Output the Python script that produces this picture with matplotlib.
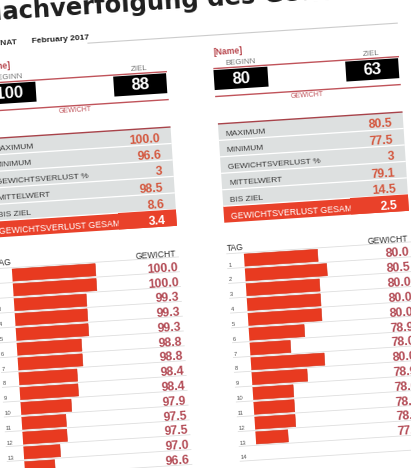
import matplotlib

matplotlib.use('agg')
import matplotlib.pyplot as plt
from matplotlib.patches import Rectangle, Polygon
from matplotlib.transforms import Affine2D
from matplotlib.font_manager import FontProperties

plt.rcParams['font.family'] = 'Liberation Sans'

# Data
title = 'Nachverfolgung des Gewichtsverlusts'
monat = 'February 2017'
stat_labels = ['MAXIMUM', 'MINIMUM', 'GEWICHTSVERLUST %', 'MITTELWERT', 'BIS ZIEL',
               'GEWICHTSVERLUST GESAMT']
stat_fmt = ['{:.1f}', '{:.1f}', '{:.0f}', '{:.1f}', '{:.1f}', '{:.1f}']
days = list(range(1, 15))

left_start = 100
left_goal = 88
left_stats = [100.0, 96.6, 3, 98.5, 8.6, 3.4]
left_weights = [100.0, 100.0, 99.3, 99.3, 99.3, 98.8, 98.8, 98.4, 98.4, 97.9, 97.5, 97.5, 97.0, 96.6]
left_xlim = (94.66, 101.7)

right_start = 80
right_goal = 63
right_stats = [80.5, 77.5, 3, 79.1, 14.5, 2.5]
right_weights = [80.0, 80.5, 80.0, 80.0, 80.0, 78.9, 78.0, 80.0, 78.9, 78.0, 78.0, 78.0, 77.5]
right_xlim = (75.54, 82.2)

# colours
RED_LINE = '#c0535a'
NAME_RED = '#b8474e'
STAT_RED = '#d4583f'
VAL_RED = '#b34b55'
BAR_RED = '#e83a20'
BAND_RED = '#e9412a'
GRAY_BG = '#dde0e0'

W, H = 411, 468
ANG = 3.7
ROW0 = 262.6
PITCH = 14.85

fig = plt.figure(figsize=(W / 100, H / 100), dpi=100)
fig.patch.set_facecolor('white')
ax = fig.add_axes([0, 0, 1, 1])
ax.set_xlim(0, W)
ax.set_ylim(H, 0)
ax.axis('off')

# the photo is tilted, so everything is drawn flat and turned a bit
rot = Affine2D().rotate_deg_around(205, H - 234, ANG)
T = ax.transData + rot


def txt(x, y, s, **kw):
    return ax.text(x, y, s, transform=T, rotation=ANG, rotation_mode='anchor', **kw)


def hline(x0, x1, y, **kw):
    ax.plot([x0, x1], [y, y], transform=T, solid_capstyle='butt', **kw)


def box(x0, y0, w, h, **kw):
    ax.add_patch(Rectangle((x0, y0), w, h, transform=T, **kw))


def panel(u0, start, goal, stats, weights, xlim):
    # header with start / goal
    txt(u0, 53, '[Name]', color=NAME_RED, fontsize=6.2, fontweight='bold', ha='left', va='center')
    txt(u0 + 26, 65, 'BEGINN', color='#777777', fontsize=5.8, ha='center', va='center')
    txt(u0 + 157.5, 65.5, 'ZIEL', color='#777777', fontsize=5.8, ha='center', va='center')
    hline(u0 - 1, u0 + 185, 69.5, color=RED_LINE, lw=1.0)
    box(u0 - 1, 71, 54, 20, color='black', lw=0)
    box(u0 + 131, 71, 53, 20, color='black', lw=0)
    txt(u0 + 26, 81.5, str(start), color='white', fontsize=12, fontweight='bold',
        ha='center', va='center')
    txt(u0 + 157.5, 81.5, str(goal), color='white', fontsize=12, fontweight='bold',
        ha='center', va='center')
    hline(u0 - 1, u0 + 185, 97.5, color=RED_LINE, lw=1.0)
    txt(u0 + 91, 102, 'GEWICHT', color=RED_LINE, fontsize=5, ha='center', va='center')

    # summary table
    n = len(stat_labels)
    for i in range(n):
        top = 125 + i * 16.5
        last = i == n - 1
        box(u0, top, 185, 16.5, color=BAND_RED if last else GRAY_BG, lw=0)
        if i > 0:
            hline(u0, u0 + 185, top, color='white', lw=0.9)
        txt(u0 + 7, top + 11, stat_labels[i], color='white' if last else '#3c3c3c',
            fontsize=6.3 if last else 6.0, ha='left', va='center')
        if last:
            # the long label is cut by the value cell
            box(u0 + 127, top, 58, 16.5, color=BAND_RED, lw=0, zorder=3.5)
        txt(u0 + 174, top + 11, stat_fmt[i].format(stats[i]),
            color='white' if last else STAT_RED, fontsize=8.8, fontweight='bold',
            ha='right', va='center', zorder=4)
    hline(u0, u0 + 185, 125, color='#a8434a', lw=1.0)

    # daily rows
    txt(u0 + 1, 250, 'TAG', color='#333333', fontsize=6.2, ha='left', va='center')
    txt(u0 + 182, 251.5, 'GEWICHT', color='#333333', fontsize=6.2, ha='right', va='center')
    for k in range(0, 15):
        yy = ROW0 + (k - 1) * PITCH + 7.4
        hline(u0, u0 + 185, yy, color='#dedede', lw=0.6)
    for k in days:
        txt(u0 + 1, ROW0 + (k - 1) * PITCH + 4, str(k), color='#555555', fontsize=4.3,
            ha='left', va='center')
    for k, w in zip(days, weights):
        txt(u0 + 183, ROW0 + (k - 1) * PITCH + 3.5, '{:.1f}'.format(w), color=VAL_RED,
            fontsize=8.8, fontweight='bold', ha='right', va='center')

    ytop = ROW0 - PITCH / 2
    ybot = ROW0 + 13.5 * PITCH
    bax = fig.add_axes([(u0 + 17.5) / W, 1 - ybot / H, 110 / W, (ybot - ytop) / H])
    bars = bax.barh(days[:len(weights)], weights, height=0.82, color=BAR_RED,
                    edgecolor='#cf3119', linewidth=0.4)
    bax.set_xlim(*xlim)
    bax.set_ylim(14.5, 0.5)
    bax.axis('off')
    clip = Polygon([[0, 0], [1, 0], [1, 1], [0, 1]], closed=True, transform=bax.transAxes + rot)
    for p in bars:
        p.set_transform(bax.transData + rot)
        p.set_clip_box(None)
        p.set_clip_path(clip)


# title: size it so "achverfolgung des" spans the width seen in the photo
renderer = fig.canvas.get_renderer()
fp = FontProperties(family='DejaVu Sans', weight='bold', size=17.5)
w_body = renderer.get_text_width_height_descent('achverfolgung des', fp, ismath=False)[0]
title_size = 17.5 * 253 / w_body
fp.set_size(title_size)
w_n = renderer.get_text_width_height_descent('N', fp, ismath=False)[0]
txt(17 - w_n, 7, title, color='#1e1e1e', fontsize=title_size, fontweight='bold',
    family='DejaVu Sans', ha='left', va='baseline')

txt(0.5, 31, 'MONAT', color='#333333', fontsize=6, fontweight='bold', ha='left', va='center')
txt(45, 31, monat, color='#222222', fontsize=6, fontweight='bold', ha='left', va='center')
hline(100, 411, 36, color='#cccccc', lw=0.8)

panel(-7.5, left_start, left_goal, left_stats, left_weights, left_xlim)
panel(225, right_start, right_goal, right_stats, right_weights, right_xlim)

fig.savefig('out.png', dpi=100, facecolor='white')
